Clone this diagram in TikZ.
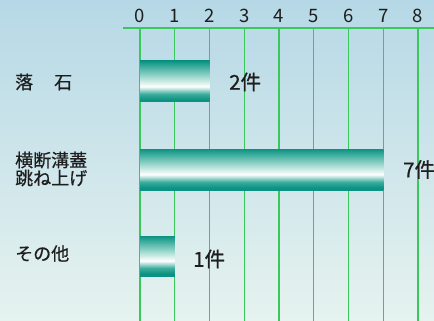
\documentclass[tikz,border=0pt]{standalone}
\usepackage{fontspec}
\newfontfamily\jp[FakeBold=0.6]{Noto Sans CJK JP}
\newfontfamily\jpd{Noto Sans CJK JP}
\definecolor{bgtop}{HTML}{B6D8E6}
\definecolor{bgbot}{HTML}{E6F3EF}
\definecolor{gridg}{HTML}{3AC85A}
\definecolor{tealdk}{HTML}{0C9282}
\definecolor{tealmd}{HTML}{3FAE9E}
\definecolor{teallt}{HTML}{A6DCD2}
\definecolor{txt}{HTML}{1E1E1E}
\pgfdeclareverticalshading{barshade}{100bp}{color(0bp)=(tealdk); color(25bp)=(tealdk); color(28bp)=(tealdk); color(35bp)=(tealmd); color(44bp)=(white); color(55bp)=(teallt); color(68bp)=(tealmd); color(75bp)=(tealdk); color(100bp)=(tealdk)}
\begin{document}
\begin{tikzpicture}[x=1pt,y=-1pt,
  gridline/.style={draw=gridg,line width=1.2pt},
  digit/.style={font=\jpd\fontsize{18.5}{18.5}\selectfont,text=txt,inner sep=0pt},
  lbl/.style={font=\jp\fontsize{18}{18}\selectfont,text=txt,inner sep=0pt,anchor=west,align=left},
  val/.style={font=\jp\fontsize{20.5}{20.5}\selectfont,text=txt,inner sep=0pt,anchor=west},
  bar/.style={shading=barshade,inner sep=0pt,outer sep=0pt,anchor=north west,draw=none}]
\useasboundingbox (0,0) rectangle (434,321);
\shade[top color=bgtop,bottom color=bgbot] (0,0) rectangle (434,321);
% grid
\coordinate (axl) at (123,28);
\coordinate (axr) at (434,28);
\draw[gridline] (axl) -- (axr);
\foreach \i in {0,...,8}{
  \node[digit] (t\i) at ({140+34.75*\i},16) {\i};
  \coordinate (g\i) at ({140+34.75*\i},28);
  \coordinate (e\i) at ({140+34.75*\i},321);
  \draw[gridline] (g\i) -- (e\i);
}
% bars
\node[bar,minimum width=69.5pt,minimum height=41pt] (bar1) at (140,61) {};
\node[bar,minimum width=243.25pt,minimum height=41pt] (bar2) at (140,149) {};
\node[bar,minimum width=34.75pt,minimum height=40pt] (bar3) at (140,236) {};
% value labels
\node[val] (v1) at (229,82) {2件};
\node[val] (v2) at (403,169.5) {7件};
\node[val] (v3) at (193,259) {1件};
% category labels
\node[lbl] (c1) at (15,82) {落\hspace{21pt}石};
\node[lbl] (c2) at (15,169) {横断溝蓋\\跳ね上げ};
\node[lbl] (c3) at (15,253.5) {その他};
\end{tikzpicture}
\end{document}
